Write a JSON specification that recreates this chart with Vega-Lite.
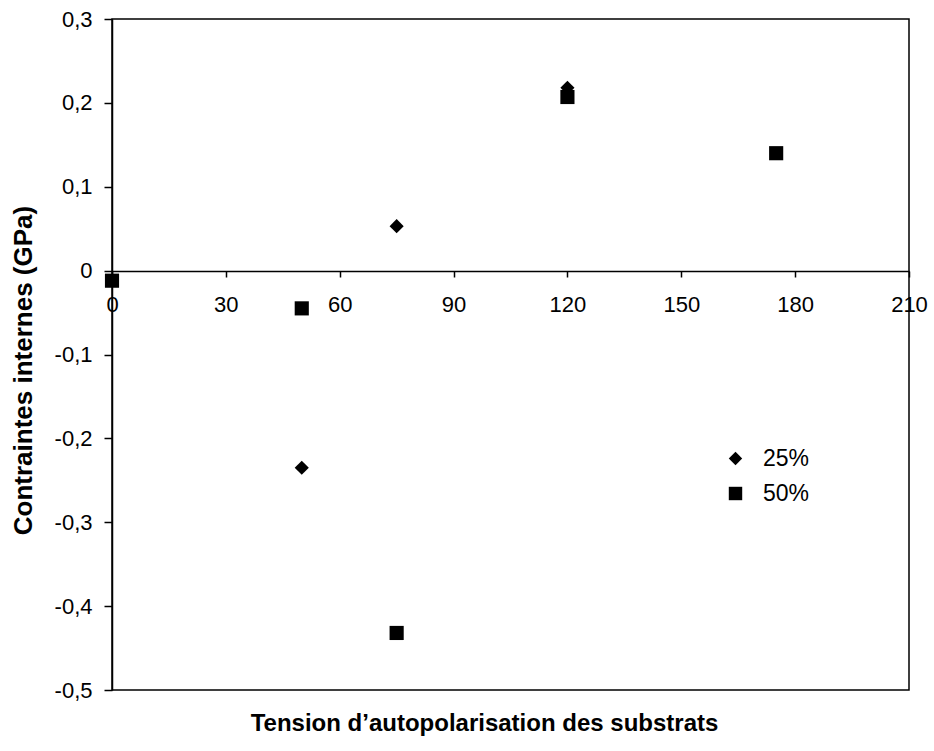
{
  "$schema": "https://vega.github.io/schema/vega-lite/v6.json",
  "width": 797,
  "height": 671,
  "autosize": {"type": "none"},
  "padding": {"left": 112, "top": 19, "right": 25, "bottom": 61},
  "background": "white",
  "config": {
    "view": {"stroke": "black", "strokeWidth": 1.5},
    "font": "Liberation Sans",
    "axis": {
      "grid": false,
      "domainColor": "black",
      "tickColor": "black",
      "labelColor": "black",
      "titleColor": "black",
      "labelFont": "Liberation Sans",
      "titleFont": "Liberation Sans",
      "labelFontSize": 22,
      "titleFontSize": 24,
      "titleFontWeight": "bold",
      "domainWidth": 1.5,
      "tickWidth": 1.5
    },
    "legend": {"labelFont": "Liberation Sans"}
  },
  "data": {
    "values": [
      {"bias": 50, "stress": -0.235, "series": "25%"},
      {"bias": 75, "stress": 0.053, "series": "25%"},
      {"bias": 120, "stress": 0.218, "series": "25%"},
      {"bias": 0, "stress": -0.012, "series": "50%"},
      {"bias": 50, "stress": -0.045, "series": "50%"},
      {"bias": 75, "stress": -0.432, "series": "50%"},
      {"bias": 120, "stress": 0.207, "series": "50%"},
      {"bias": 175, "stress": 0.14, "series": "50%"}
    ]
  },
  "mark": {"type": "point", "filled": true, "opacity": 1, "color": "black", "size": 200},
  "encoding": {
    "x": {
      "field": "bias",
      "type": "quantitative",
      "scale": {"domain": [0, 210], "nice": false, "zero": false},
      "axis": {
        "values": [0, 30, 60, 90, 120, 150, 180, 210],
        "offset": -419,
        "tickSize": 6,
        "labelPadding": 17,
        "labelOverlap": false,
        "labelFlush": false,
        "labelBound": false,
        "title": "Tension d’autopolarisation des substrats",
        "titleX": 372,
        "titleY": 452,
        "titleAlign": "center",
        "titleBaseline": "middle"
      }
    },
    "y": {
      "field": "stress",
      "type": "quantitative",
      "scale": {"domain": [-0.5, 0.3], "nice": false, "zero": false},
      "axis": {
        "values": [-0.5, -0.4, -0.3, -0.2, -0.1, 0, 0.1, 0.2, 0.3],
        "tickSize": 8,
        "labelPadding": 12,
        "labelOverlap": false,
        "labelFlush": false,
        "labelBound": false,
        "labelExpr": "(datum.value < -0.00001 ? '-' : '') + replace(format(abs(datum.value), '.1~f'), '.', ',')",
        "title": "Contraintes internes (GPa)",
        "titleFontSize": 26,
        "titleX": -89,
        "titleY": 351,
        "titleAngle": -90,
        "titleAlign": "center",
        "titleBaseline": "middle"
      }
    },
    "shape": {
      "field": "series",
      "type": "nominal",
      "scale": {"domain": ["25%", "50%"], "range": ["diamond", "square"]},
      "legend": {
        "title": null,
        "orient": "none",
        "legendX": 612,
        "legendY": 428,
        "labelFontSize": 23,
        "symbolSize": 180,
        "symbolFillColor": "black",
        "symbolStrokeColor": "black",
        "rowPadding": 11,
        "labelOffset": 16
      }
    }
  }
}
